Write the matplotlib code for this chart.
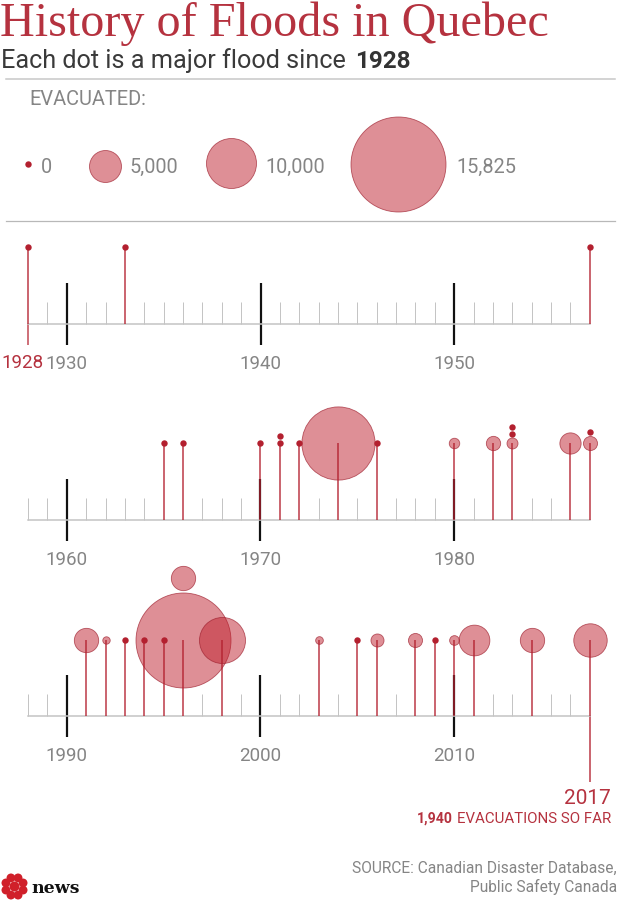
import numpy as np
import matplotlib
matplotlib.use("Agg")
import matplotlib.pyplot as plt
from matplotlib.patches import Circle

# ---------- data ----------
row1_range = (1928, 1957)
row1_years = [1928, 1933, 1957]
row1_evacuated = [0, 0, 0]

row2_range = (1958, 1987)
row2_years = [1965, 1966, 1970, 1971, 1971, 1972, 1974, 1976, 1980, 1982,
              1983, 1983, 1983, 1986, 1987, 1987]
row2_evacuated = [0, 0, 0, 0, 0, 0, 13000, 0, 800, 1550,
                  900, 0, 0, 2900, 1500, 0]

row3_range = (1988, 2017)
row3_years = [1991, 1992, 1993, 1994, 1995, 1996, 1996, 1998, 2003, 2005,
              2006, 2008, 2009, 2010, 2011, 2014, 2017]
row3_evacuated = [3500, 200, 0, 0, 0, 15825, 3500, 8900, 250, 0,
                  1300, 1500, 0, 650, 4750, 3500, 5400]

legend_values = [0, 5000, 10000, 15825]
legend_labels = ["0", "5,000", "10,000", "15,825"]
scale_radius_px = [3.2, 16, 25, 47.5]

# ---------- style ----------
W, H = 620, 904
RED = "#b3202f"
TITLE_RED = "#b5323f"
FILL = (0.75, 0.13, 0.18, 0.50)
EDGE = (0.62, 0.12, 0.18, 0.70)
GREY_TXT = "#858585"
GREY_TICK = "#c4c4c4"
SANS = "Roboto"
PX = 72 / 100

fig = plt.figure(figsize=(W / 100, H / 100), dpi=100)
bg = fig.add_axes([0, 0, 1, 1])
bg.set_xlim(0, W)
bg.set_ylim(H, 0)
bg.axis("off")


def radius(v):
    return np.interp(v, legend_values, scale_radius_px)


def bubbles(ax, xs, ys, vals, z=3):
    for x, y, v in zip(xs, ys, vals):
        d = 2 * radius(v) * PX
        if v == 0:
            ax.scatter([x], [y], s=d ** 2, color=RED, linewidths=0, zorder=z + 2, clip_on=False)
        else:
            ax.scatter([x], [y], s=d ** 2, facecolor=FILL, edgecolor=EDGE, linewidths=0.6,
                       zorder=z, clip_on=False)


PX_PER_YEAR = 19.37


def row(rng, years, vals, baseline_px, stem_px, stacks):
    ax = fig.add_axes([0, 1 - baseline_px / H, 1, 130 / H])
    ax.patch.set_visible(False)
    x0 = rng[0] + 2 - 66.8 / PX_PER_YEAR
    ax.set_xlim(x0, x0 + W / PX_PER_YEAR)
    ax.set_ylim(0, 130 / stem_px)
    for s in ("top", "left", "right"):
        ax.spines[s].set_visible(False)
    ax.spines["bottom"].set_color(GREY_TICK)
    ax.spines["bottom"].set_linewidth(1.1)
    ax.spines["bottom"].set_bounds(*rng)
    ax.yaxis.set_visible(False)

    decades = [y for y in range(rng[0], rng[1] + 1) if y % 10 == 0]
    occupied = set(years) | set(decades)
    minors = [y for y in range(rng[0], rng[1] + 1) if y not in occupied]
    ax.set_xticks(decades)
    ax.set_xticklabels([str(d) for d in decades], fontsize=13.5, color=GREY_TXT, family=SANS)
    ax.set_xticks(minors, minor=True)
    ax.tick_params(axis="x", which="major", length=0, pad=22 * PX + 6)
    ax.tick_params(axis="x", which="minor", direction="in", length=22 * PX,
                   width=1.0 * PX, color=GREY_TICK)
    ax.vlines(decades, -21 / stem_px, 41 / stem_px, color="#111111", lw=2.2 * PX,
              zorder=2, clip_on=False)

    seen = {}
    ys = []
    for y in years:
        k = seen.get(y, 0)
        ys.append(stacks.get((y, k), 1.0))
        seen[y] = k + 1
    ax.vlines(sorted(set(years)), 0, 1, color=RED, alpha=0.85, lw=1.6 * PX, zorder=6)
    bubbles(ax, years, ys, vals)
    return ax


ax1 = row(row1_range, row1_years, row1_evacuated, 324.5, 76.8, {})
ax1.vlines([row1_range[0]], -21 / 76.8, 0, color=RED, alpha=0.7, lw=1.8 * PX, clip_on=False)

ax2 = row(row2_range, row2_years, row2_evacuated, 520.8, 77.0,
          {(1971, 1): 1.09, (1983, 1): 1.12, (1983, 2): 1.21, (1987, 1): 1.14})

ax3 = row(row3_range, row3_years, row3_evacuated, 716.7, 75.8, {(1996, 1): 1.82})
ax3.vlines([row3_range[1]], -66 / 75.8, 0, color=RED, alpha=0.85, lw=1.6 * PX, clip_on=False)

# ---------- header ----------
bg.text(0, 36, "History of Floods in Quebec", family="Liberation Serif", fontsize=34.7,
        color=TITLE_RED, ha="left", va="baseline")
bg.text(1, 68, "Each dot is a major flood since", family=SANS, fontsize=18.2, color="#3a3a3a",
        ha="left", va="baseline")
bg.text(355, 68, "1928", family=SANS, fontsize=17.5, color="#333333", fontweight="bold",
        ha="left", va="baseline")
bg.plot([6, 615], [79.5, 79.5], color="#c8c8c8", lw=1.1)
bg.plot([6, 615], [222, 222], color="#b8b8b8", lw=0.9)
bg.text(29, 105, "EVACUATED:", family=SANS, fontsize=14.4, color=GREY_TXT,
        ha="left", va="baseline")

legend_x = [28, 104.5, 231, 398]
legend_y = [164.5, 167, 164, 164.5]
legend_tx = [41, 129, 265, 456]
bubbles(bg, legend_x, legend_y, legend_values)
for tx, lab in zip(legend_tx, legend_labels):
    bg.text(tx, 173, lab, family=SANS, fontsize=14.3, color=GREY_TXT,
            ha="left", va="baseline")

# ---------- callouts ----------
bg.text(22.5, 368, "1928", family=SANS, fontsize=13.5, color=TITLE_RED,
        ha="center", va="baseline")
bg.text(611, 804, "2017", family=SANS, fontsize=15, color=TITLE_RED,
        ha="right", va="baseline")
bg.text(417, 823, "1,940", family=SANS, fontsize=10.2, color=TITLE_RED, fontweight="bold",
        ha="left", va="baseline")
bg.text(611, 823, "EVACUATIONS SO FAR", family=SANS, fontsize=10.8, color=TITLE_RED,
        ha="right", va="baseline")
bg.text(617, 873, "SOURCE: Canadian Disaster Database,", family=SANS, fontsize=11.2,
        color=GREY_TXT, ha="right", va="baseline")
bg.text(617, 892, "Public Safety Canada", family=SANS, fontsize=11.2, color=GREY_TXT,
        ha="right", va="baseline")

# ---------- logo ----------
cx, cy = 14.5, 887.5
bg.add_patch(Circle((cx, cy), 5, color="#d0202a", lw=0))
for ang in np.arange(22.5, 360, 45):
    a = np.deg2rad(ang)
    bg.add_patch(Circle((cx + 9.3 * np.cos(a), cy + 9.3 * np.sin(a)), 4.4,
                        color="#d0202a", lw=0))
bg.text(31, 893, "news", family="DejaVu Serif", fontsize=12.5, fontweight="bold", color="#111111",
        ha="left", va="baseline")

fig.savefig("out.png", dpi=100)
